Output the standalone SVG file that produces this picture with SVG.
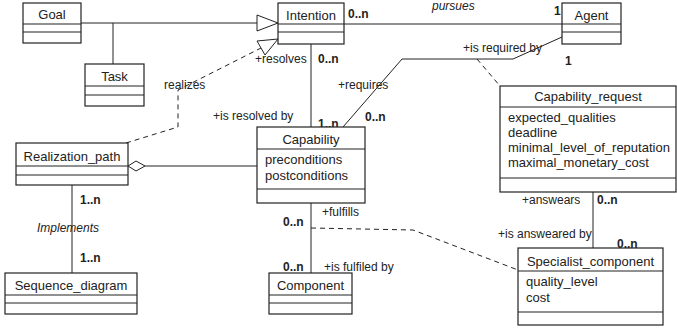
<svg xmlns="http://www.w3.org/2000/svg" width="677" height="330" viewBox="0 0 677 330">
  <style>
    .box { fill: #fff; stroke: #222; stroke-width: 1.2; }
    .sep { stroke: #222; stroke-width: 1.1; }
    .line { fill: none; stroke: #222; stroke-width: 1; }
    .dash { fill: none; stroke: #222; stroke-width: 1; stroke-dasharray: 5 4; }
    .head { fill: #fff; stroke: #222; stroke-width: 1; }
    text { font-family: "Liberation Sans", Arial, sans-serif; font-size: 13px; fill: #222; }
    .name { text-anchor: middle; }
    .lbl { font-size: 12px; }
    .mult { font-size: 12px; font-weight: bold; }
    .it { font-size: 12px; font-style: italic; }
  </style>

  <!-- connectors -->
  <g id="connectors">
    <!-- generalisation Goal/Task -> Intention -->
    <polyline class="line" points="81,23 257,23"/>
    <polyline class="line" points="113,23 113,64"/>
    <polygon class="head" points="257,15 278,23 257,31"/>
    <!-- realizes (dashed realisation) -->
    <polyline class="dash" points="126,143 178,127 178,90 261,48"/>
    <polygon class="head" points="257,41 278,39 265,55"/>
    <!-- pursues -->
    <line class="line" x1="344" y1="24" x2="562" y2="24"/>
    <!-- Intention - Capability -->
    <line class="line" x1="311" y1="44" x2="311" y2="127"/>
    <!-- Capability - Agent -->
    <polyline class="line" points="343,127 402,59 513,59 562,37"/>
    <line class="dash" x1="477" y1="59" x2="500" y2="86"/>
    <!-- aggregation Realization_path - Capability -->
    <line class="line" x1="145" y1="166" x2="257" y2="166"/>
    <polygon class="head" points="128,166 136,161 145,166 136,171"/>
    <!-- Realization_path - Sequence_diagram -->
    <line class="line" x1="72" y1="185" x2="72" y2="273"/>
    <!-- Capability - Component -->
    <line class="line" x1="311" y1="203" x2="311" y2="273"/>
    <polyline class="dash" points="311,228 413,230 518,270"/>
    <!-- Capability_request - Specialist_component -->
    <line class="line" x1="593" y1="192" x2="593" y2="248"/>
  </g>

  <!-- connector labels -->
  <g id="labels">
    <text class="it" x="432" y="10">pursues</text>
    <text class="mult" x="348" y="18">0..n</text>
    <text class="mult" x="554" y="15">1</text>
    <text class="lbl" x="255" y="63">+resolves</text>
    <text class="mult" x="318" y="63">0..n</text>
    <text class="lbl" x="338" y="89">+requires</text>
    <text class="lbl" x="213" y="120">+is resolved by</text>
    <text class="mult" x="318" y="128">1..n</text>
    <text class="mult" x="365" y="121">0..n</text>
    <text class="lbl" x="463" y="52">+is required by</text>
    <text class="mult" x="565" y="65">1</text>
    <text class="lbl" x="164" y="89">realizes</text>
    <text class="mult" x="80" y="204">1..n</text>
    <text class="it" x="37" y="232">Implements</text>
    <text class="mult" x="80" y="262">1..n</text>
    <text class="lbl" x="322" y="216">+fulfills</text>
    <text class="mult" x="283" y="226">0..n</text>
    <text class="mult" x="283" y="271">0..n</text>
    <text class="lbl" x="324" y="271">+is fulfiled by</text>
    <text class="lbl" x="522" y="204">+answears</text>
    <text class="mult" x="597" y="204">0..n</text>
    <text class="lbl" x="498" y="238">+is answeared by</text>
    <text class="mult" x="617" y="248">0..n</text>
  </g>

  <g id="goal">
    <rect class="box" x="23" y="3" width="58" height="40"/>
    <line class="sep" x1="23" y1="24" x2="81" y2="24"/>
    <line class="sep" x1="23" y1="32" x2="81" y2="32"/>
    <text class="name" x="52" y="19">Goal</text>
  </g>

  <g id="task">
    <rect class="box" x="85" y="64" width="59" height="42"/>
    <line class="sep" x1="85" y1="86" x2="144" y2="86"/>
    <line class="sep" x1="85" y1="95" x2="144" y2="95"/>
    <text class="name" x="114.5" y="81">Task</text>
  </g>

  <g id="intention">
    <rect class="box" x="278" y="3" width="66" height="41"/>
    <line class="sep" x1="278" y1="24" x2="344" y2="24"/>
    <line class="sep" x1="278" y1="32" x2="344" y2="32"/>
    <text class="name" x="311" y="20">Intention</text>
  </g>

  <g id="agent">
    <rect class="box" x="562" y="3" width="59" height="41"/>
    <line class="sep" x1="562" y1="24" x2="621" y2="24"/>
    <line class="sep" x1="562" y1="32" x2="621" y2="32"/>
    <text class="name" x="591.5" y="20">Agent</text>
  </g>

  <g id="capability_request">
    <rect class="box" x="500" y="86" width="176" height="106"/>
    <line class="sep" x1="500" y1="107" x2="676" y2="107"/>
    <line class="sep" x1="500" y1="178" x2="676" y2="178"/>
    <text class="name" x="588" y="101">Capability_request</text>
    <text x="508" y="122">expected_qualities</text>
    <text x="508" y="137">deadline</text>
    <text x="508" y="152">minimal_level_of_reputation</text>
    <text x="508" y="167">maximal_monetary_cost</text>
  </g>

  <g id="capability">
    <rect class="box" x="257" y="127" width="108" height="76"/>
    <line class="sep" x1="257" y1="149" x2="365" y2="149"/>
    <line class="sep" x1="257" y1="189" x2="365" y2="189"/>
    <text class="name" x="311" y="144">Capability</text>
    <text x="265" y="164">preconditions</text>
    <text x="265" y="180">postconditions</text>
  </g>

  <g id="realization_path">
    <rect class="box" x="16" y="143" width="112" height="42"/>
    <line class="sep" x1="16" y1="166" x2="128" y2="166"/>
    <line class="sep" x1="16" y1="175" x2="128" y2="175"/>
    <text class="name" x="72" y="161">Realization_path</text>
  </g>

  <g id="sequence_diagram">
    <rect class="box" x="5" y="273" width="132" height="41"/>
    <line class="sep" x1="5" y1="295" x2="137" y2="295"/>
    <line class="sep" x1="5" y1="303" x2="137" y2="303"/>
    <text class="name" x="71" y="290">Sequence_diagram</text>
  </g>

  <g id="component">
    <rect class="box" x="269" y="273" width="83" height="41"/>
    <line class="sep" x1="269" y1="295" x2="352" y2="295"/>
    <line class="sep" x1="269" y1="303" x2="352" y2="303"/>
    <text class="name" x="310.5" y="290">Component</text>
  </g>

  <g id="specialist_component">
    <rect class="box" x="518" y="248" width="145" height="77"/>
    <line class="sep" x1="518" y1="271" x2="663" y2="271"/>
    <line class="sep" x1="518" y1="312" x2="663" y2="312"/>
    <text class="name" x="590.5" y="266">Specialist_component</text>
    <text x="526" y="286">quality_level</text>
    <text x="526" y="302">cost</text>
  </g>
</svg>
